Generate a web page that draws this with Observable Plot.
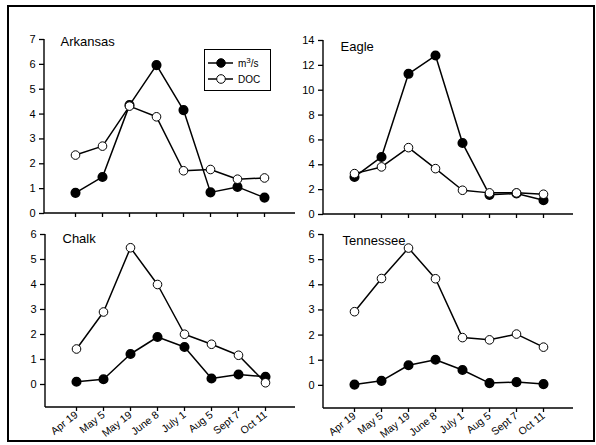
<!DOCTYPE html>
<html>
<head>
<meta charset="utf-8">
<script src="https://cdn.jsdelivr.net/npm/d3@7"></script>
<script src="https://cdn.jsdelivr.net/npm/@observablehq/plot@0.6"></script>
<style>
  html, body { margin: 0; padding: 0; background: white; }
  #wrap { position: relative; width: 596px; height: 445px; font-family: "Liberation Sans", Arial, sans-serif; }
  #border { position: absolute; left: 7px; top: 5px; width: 588px; height: 437px; border: 2px solid black; box-sizing: border-box; }
  .panel { position: absolute; }
  #legend { position: absolute; left: 204px; top: 49px; width: 67px; height: 42px; border: 1.3px solid black; box-sizing: border-box; background: white; }
</style>
</head>
<body>
<div id="wrap">
  <div id="border"></div>
</div>
<script>
const dates = ["Apr 19", "May 5", "May 19", "June 8", "July 1", "Aug 5", "Sept 7", "Oct 11"];

const arkansasFlow = [0.83, 1.47, 4.36, 5.97, 4.16, 0.85, 1.07, 0.64];
const arkansasDoc  = [2.35, 2.71, 4.32, 3.89, 1.72, 1.77, 1.38, 1.43];
const eagleFlow    = [3.02, 4.63, 11.32, 12.79, 5.75, 1.58, 1.69, 1.15];
const eagleDoc     = [3.29, 3.83, 5.38, 3.69, 1.95, 1.74, 1.74, 1.63];
const chalkFlow    = [0.11, 0.21, 1.22, 1.90, 1.50, 0.24, 0.40, 0.31];
const chalkDoc     = [1.42, 2.90, 5.47, 4.00, 2.01, 1.61, 1.17, 0.07];
const tennFlow     = [0.03, 0.18, 0.80, 1.02, 0.61, 0.09, 0.13, 0.05];
const tennDoc      = [2.93, 4.25, 5.46, 4.24, 1.90, 1.81, 2.04, 1.52];

const seriesNames = ["m³/s", "DOC"];

const arkansasTicks = [0, 1, 2, 3, 4, 5, 6, 7];
const eagleTicks = [0, 2, 4, 6, 8, 10, 12, 14];
const lowerTicks = [0, 1, 2, 3, 4, 5, 6];

const font = "'Liberation Sans', Arial, sans-serif";

function rows(vals) { return dates.map((d, i) => ({date: d, v: vals[i]})); }

// axis lines along the left and bottom edges of the frame
function axisLines(index, scales, values, dimensions) {
  const {width, height, marginLeft, marginRight, marginTop, marginBottom} = dimensions;
  const g = d3.create("svg:g").attr("stroke", "black").attr("stroke-width", 1.4).attr("fill", "none");
  g.append("line").attr("x1", marginLeft).attr("x2", marginLeft).attr("y1", marginTop).attr("y2", height - marginBottom);
  g.append("line").attr("x1", marginLeft).attr("x2", width - marginRight).attr("y1", height - marginBottom).attr("y2", height - marginBottom);
  return g.node();
}

function panel(cfg) {
  const flow = rows(cfg.flow), doc = rows(cfg.doc);
  const chart = Plot.plot({
    width: cfg.width, height: cfg.height,
    marginLeft: cfg.ml, marginRight: cfg.mr, marginTop: cfg.mt, marginBottom: cfg.mb,
    style: {fontFamily: font, fontSize: "10px", overflow: "visible", background: "transparent", color: "black"},
    x: {type: "point", domain: dates, padding: 1},
    y: {domain: cfg.ydomain},
    marks: [
      Plot.axisY({ticks: cfg.yticks, tickFormat: d3.format("d"), tickSize: 5, tickPadding: 4, label: null, strokeWidth: 1.3, fontSize: 11}),
      cfg.labels
        ? Plot.axisX({tickSize: 4, tickPadding: 2, label: null, tickRotate: -38, strokeWidth: 1.3, fontSize: 10.5})
        : Plot.axisX({tickSize: 4, label: null, tickFormat: () => "", strokeWidth: 1.3}),
      axisLines,
      Plot.line(flow, {x: "date", y: "v", stroke: "black", strokeWidth: 1.5}),
      Plot.dot(flow, {x: "date", y: "v", r: 4.3, fill: "black", stroke: "black"}),
      Plot.line(doc, {x: "date", y: "v", stroke: "black", strokeWidth: 1.5}),
      Plot.dot(doc, {x: "date", y: "v", r: 4.3, fill: "white", stroke: "black", strokeWidth: 1}),
      Plot.text([cfg.name], {frameAnchor: "top-left", dx: cfg.tdx, dy: cfg.tdy, text: d => d, fontSize: 13, textAnchor: "start", fill: "black"})
    ]
  });
  const div = document.createElement("div");
  div.className = "panel";
  div.style.left = cfg.left + "px";
  div.style.top = cfg.top + "px";
  div.appendChild(chart);
  document.getElementById("wrap").appendChild(div);
}

panel({name: "Arkansas", flow: arkansasFlow, doc: arkansasDoc, ydomain: [0, 7], yticks: arkansasTicks,
  left: 0, top: 0, width: 298, height: 222, ml: 44, mr: 3, mt: 39, mb: 9, labels: false, tdx: 16, tdy: -3});
panel({name: "Eagle", flow: eagleFlow, doc: eagleDoc, ydomain: [0, 14], yticks: eagleTicks,
  left: 298, top: 0, width: 298, height: 222, ml: 25, mr: 23, mt: 40, mb: 8, labels: false, tdx: 17, tdy: 1});
panel({name: "Chalk", flow: chalkFlow, doc: chalkDoc, ydomain: [-0.92, 6], yticks: lowerTicks,
  left: 0, top: 222, width: 298, height: 223, ml: 45, mr: 3, mt: 12, mb: 38, labels: true, tdx: 17, tdy: -1});
panel({name: "Tennessee", flow: tennFlow, doc: tennDoc, ydomain: [-0.92, 6], yticks: lowerTicks,
  left: 298, top: 222, width: 298, height: 223, ml: 25, mr: 23, mt: 12, mb: 37, labels: true, tdx: 19, tdy: 1});

// legend (inside the Arkansas panel)
const leg = document.createElement("div");
leg.id = "legend";
document.getElementById("wrap").appendChild(leg);
const svg = d3.select(leg).append("svg").attr("width", 65).attr("height", 40).style("overflow", "visible");
seriesNames.forEach((name, i) => {
  const y = 13 + i * 16;
  svg.append("line").attr("x1", 3).attr("x2", 28).attr("y1", y).attr("y2", y).attr("stroke", "black").attr("stroke-width", 1.5);
  svg.append("circle").attr("cx", 16).attr("cy", y).attr("r", 4.3)
    .attr("fill", i === 0 ? "black" : "white").attr("stroke", "black").attr("stroke-width", 1);
  const t = svg.append("text").attr("x", 33).attr("y", y + 3.5).attr("font-family", font).attr("font-size", 10).attr("fill", "black");
  if (i === 0) {
    t.append("tspan").text("m");
    t.append("tspan").attr("font-size", 8).attr("dy", -4).text("3");
    t.append("tspan").attr("dy", 4).text("/s");
  } else {
    t.text(name);
  }
});
</script>
</body>
</html>
